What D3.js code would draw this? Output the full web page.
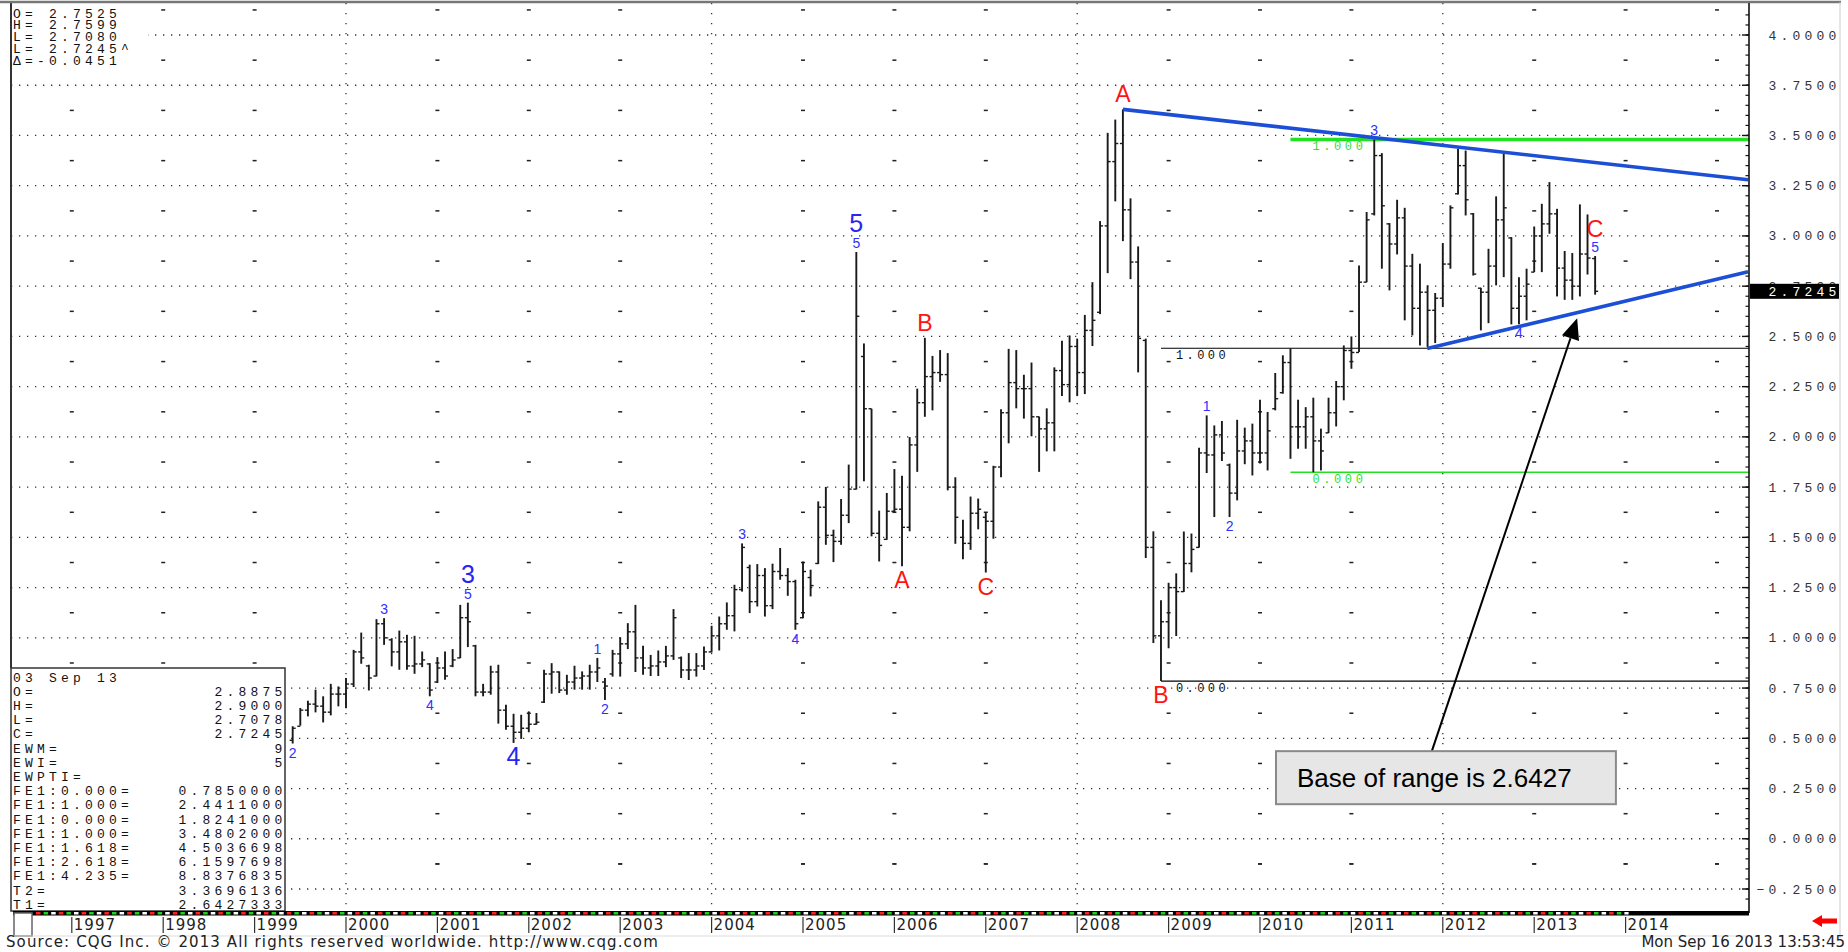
<!DOCTYPE html>
<html>
<head>
<meta charset="utf-8">
<script src="https://cdn.jsdelivr.net/npm/d3@7"></script>
<style>
  body { margin: 0; background: #fff; }
  svg { display: block; }
  .mono { font-family: "Liberation Mono", "DejaVu Sans Mono", monospace; font-size: 13px; letter-spacing: 4.2px; fill: #111; }
  .sans { font-family: "DejaVu Sans", Verdana, sans-serif; font-size: 15px; fill: #222; }
  .wave { font-family: "Liberation Sans", Arial, sans-serif; text-anchor: middle; }
</style>
</head>
<body>
<svg id="chart" width="1848" height="952"></svg>
<script>
// ---- data (monthly bars, first visible one is Jun 1999) ----
var firstYear = 1999, firstMonth = 6

var barOpen = [
  .49,.56,.64,.67,.66,.63,.72,
  .72,.77,.93,.86,.81,1.07,.99,.93,.98,.86,.87,.87,
  .78,.85,.86,.90,1.10,.96,.73,.73,.83,.64,.56,.53,
  .55,.57,.68,.82,.83,.74,.78,.80,.81,.83,.78,.82,
  .92,.97,1.03,.90,.85,.86,.88,.91,.90,.84,.84,.86,
  .93,1.01,1.07,1.11,1.24,1.35,1.18,1.31,1.16,1.33,1.31,1.28,
  1.10,1.30,1.37,1.65,1.51,1.48,1.61,1.74,2.40,2.14,1.52,1.49,
  1.63,1.64,1.55,1.96,2.17,2.30,2.32,2.31,1.75,1.50,1.47,1.62,
  1.60,1.58,1.85,2.12,2.27,2.24,2.24,2.10,2.04,2.07,2.33,2.26,
  2.45,2.32,2.53,2.62,3.05,3.37,3.46,3.13,2.87,2.48,1.45,1.01,
  1.08,1.25,1.23,1.37,1.45,1.92,1.91,2.01,1.86,1.72,1.93,1.98,
  1.92,1.92,2.14,2.22,2.37,2.05,2.05,2.10,1.98,2.02,2.12,2.25,
  2.43,2.42,2.77,3.11,3.40,3.06,2.96,3.09,2.85,2.64,2.72,2.63,
  2.69,2.86,3.21,3.35,3.11,2.74,2.72,2.85,3.08,2.99,2.64,2.70,
  2.82,3.00,3.06,3.11,2.84,2.78,2.75,2.91,2.8875
]
var barHigh = [
  .56,.651,.687,.742,.709,.771,.758,
  .80,.94,1.026,.866,1.093,1.098,.998,1.036,1.015,1.01,.932,.874,
  .904,.932,.944,1.164,1.175,.965,.771,.861,.866,.667,.622,.617,
  .634,.626,.841,.874,.833,.816,.861,.833,.866,.90,.80,.94,
  1.003,1.073,1.164,.96,.915,.937,.96,1.143,.907,.924,.924,.957,
  1.06,1.106,1.176,1.264,1.47,1.364,1.367,1.347,1.369,1.447,1.347,1.289,
  1.38,1.339,1.679,1.751,1.538,1.691,1.862,2.92,2.465,2.14,1.633,1.721,
  1.84,1.807,1.999,2.24,2.493,2.403,2.432,2.417,1.799,1.587,1.703,1.693,
  1.621,1.856,2.138,2.438,2.432,2.309,2.37,2.101,2.142,2.346,2.479,2.505,
  2.489,2.607,2.77,3.074,3.513,3.579,3.63,3.187,2.948,2.489,1.53,1.187,
  1.274,1.321,1.529,1.519,1.946,2.107,2.057,2.079,1.867,2.085,2.046,2.066,
  2.185,2.124,2.318,2.406,2.4411,2.185,2.148,2.195,2.041,2.195,2.278,2.455,
  2.50,2.853,3.119,3.4802,3.412,3.064,3.18,3.14,2.911,2.862,2.754,2.716,
  2.964,3.152,3.434,3.425,3.114,2.742,2.936,3.197,3.409,2.994,2.795,2.837,
  3.047,3.16,3.268,3.135,2.925,2.915,3.157,3.107,2.90
]
var barLow = [
  .474,.563,.609,.629,.579,.614,.659,
  .65,.755,.871,.738,.808,.965,.858,.841,.841,.821,.854,.709,
  .775,.791,.854,.899,.954,.709,.709,.717,.573,.543,.477,.497,
  .53,.568,.676,.722,.725,.717,.742,.742,.742,.78,.69,.807,
  .807,.944,.83,.816,.81,.81,.854,.89,.80,.79,.807,.84,
  .927,.937,1.04,1.032,1.23,1.123,1.156,1.106,1.143,1.289,1.209,1.04,
  1.098,1.206,1.367,1.463,1.377,1.463,1.571,1.738,1.779,1.505,1.38,1.488,
  1.625,1.356,1.53,1.826,2.10,2.132,2.274,1.734,1.468,1.391,1.438,1.54,
  1.325,1.493,1.799,1.968,2.142,2.091,2.003,1.826,1.928,1.928,2.203,2.172,
  2.203,2.213,2.452,2.611,2.815,3.172,2.974,2.785,2.321,1.397,.974,.785,
  .948,1.009,1.228,1.326,1.449,1.82,1.601,1.88,1.601,1.684,1.864,1.808,
  1.867,1.833,2.132,2.215,1.891,1.941,1.941,1.8241,1.833,2.019,2.052,2.182,
  2.339,2.422,2.77,3.102,2.837,2.729,2.908,2.58,2.505,2.455,2.447,2.467,
  2.646,2.837,3.206,3.102,2.803,2.53,2.566,2.754,2.795,2.56,2.56,2.58,
  2.82,2.82,3.011,2.699,2.682,2.682,2.699,2.808,2.7078
]
var barClose = [
  .55,.64,.67,.66,.63,.72,.72,
  .77,.93,.90,.80,1.07,1.00,.93,.98,.86,.87,.89,.74,
  .85,.81,.89,1.10,1.08,.73,.73,.83,.64,.56,.53,.55,
  .57,.58,.82,.83,.74,.78,.80,.81,.83,.85,.76,.92,
  .97,1.03,.90,.85,.86,.88,.91,1.10,.84,.84,.86,.93,
  1.01,1.07,1.11,1.24,1.45,1.18,1.31,1.16,1.33,1.31,1.28,1.07,
  1.33,1.26,1.65,1.51,1.48,1.61,1.74,2.60,2.14,1.52,1.46,1.63,
  1.64,1.55,1.96,2.17,2.30,2.32,2.31,1.75,1.60,1.47,1.62,1.64,
  1.58,1.85,2.12,2.27,2.24,2.24,2.10,2.04,2.07,2.33,2.26,2.45,
  2.32,2.53,2.58,3.05,3.37,3.46,3.13,2.87,2.49,1.45,1.01,1.08,
  1.25,1.23,1.37,1.44,1.92,1.91,2.01,1.92,1.72,1.93,1.98,1.92,
  1.92,2.03,2.19,2.37,2.05,2.05,2.10,1.98,1.93,2.12,2.25,2.43,
  2.42,2.77,3.08,3.40,3.15,2.96,3.09,2.85,2.64,2.72,2.63,2.69,
  2.86,3.14,3.35,3.18,2.81,2.72,2.85,3.08,3.14,2.64,2.70,2.76,
  3.00,3.06,3.11,2.84,2.78,2.75,2.91,2.89,2.7245
]

var yearTicks = [1997,1998,1999,2000,2001,2002,2003,2004,2005,2006,2007,2008,2009,2010,2011,2012,2013,2014]
var priceTicks = [4.0,3.75,3.5,3.25,3.0,2.75,2.5,2.25,2.0,1.75,1.5,1.25,1.0,0.75,0.5,0.25,0.0,-0.25]
var lastPrice = 2.7245

// elliott wave counts: [month, label, side]
var minorWaves = [
  ["1999-06","2","low"], ["2000-06","3","high"], ["2000-12","4","low"], ["2001-05","5","high"],
  ["2002-10","1","high"], ["2002-11","2","low"], ["2004-05","3","high"], ["2004-12","4","low"],
  ["2005-08","5","high"], ["2009-06","1","high"], ["2009-09","2","low"], ["2011-04","3","high"],
  ["2012-11","4","low"], ["2013-09","5","high"]
]
var majorWaves = [["2001-05","3","high"], ["2001-11","4","low"], ["2005-08","5","high"]]
var abcWaves = [
  ["2006-02","A","low"], ["2006-05","B","high"], ["2007-01","C","low"],
  ["2008-07","A","high"], ["2008-12","B","low"], ["2013-09","C","high"]
]

// trend lines [decimal year, price]
var upperTrend = [[2008.5, 3.63], [2015.34, 3.28]]
var lowerTrend = [[2011.83, 2.44], [2015.34, 2.822]]
// fibonacci extension levels
var fibBlack = [["1.000", 2.4411], ["0.000", 0.785]]
var fibGreen = [["1.000", 3.4802], ["0.000", 1.8241]]
var fibBlackStart = 2008.917, fibGreenStart = 2010.333

var ohlcText = ["O= 2.7525", "H= 2.7599", "L= 2.7080", "L= 2.7245^", "\u0394=-0.0451"]
var studyNames = ["03 Sep 13","O=","H=","L=","C=","EWM=","EWI=","EWPTI=","FE1:0.000=","FE1:1.000=","FE1:0.000=","FE1:1.000=","FE1:1.618=","FE1:2.618=","FE1:4.235=","T2=","T1="]
var studyValues = ["","2.8875","2.9000","2.7078","2.7245","9","5","","0.7850000","2.4411000","1.8241000","3.4802000","4.5036698","6.1597698","8.8376835","3.3696136","2.6427333"]

// ---- layout ----
var plotLeft = 11, plotRight = 1749, plotTop = 3, plotBottom = 911
var x = d3.scaleLinear().domain([1997, 2014]).range([71.8, 1625.6])
var y = d3.scaleLinear().domain([-0.25, 4]).range([889, 35])

function monthT(s) {
  var p = s.split('-')
  return +p[0] + (+p[1] - 1) / 12
}

var bars = barOpen.map(function(o, i) {
  return {t: firstYear + (firstMonth - 1 + i) / 12, o: o, h: barHigh[i], l: barLow[i], c: barClose[i]}
})
function barAt(s) {
  var t = monthT(s)
  return bars.find(b => Math.abs(b.t - t) < 0.01)
}

var svg = d3.select('#chart')
svg.append('rect').attr('width', 1848).attr('height', 952).attr('fill', '#fff')

svg.append('clipPath').attr('id', 'plotClip')
  .append('rect').attr('x', plotLeft).attr('y', plotTop).attr('width', plotRight - plotLeft).attr('height', plotBottom - plotTop)

var gridG = svg.append('g')
// horizontal dotted grid
gridG.selectAll('line.h').data(priceTicks).join('line')
  .attr('x1', plotLeft).attr('x2', plotRight)
  .attr('y1', d => y(d)).attr('y2', d => y(d))
  .attr('stroke', '#333').attr('stroke-width', 1.3).attr('stroke-dasharray', '1.3,6.7')

// vertical dotted lines every 4 years
var vYears = yearTicks.filter(d => d % 4 == 0)
gridG.selectAll('line.v').data(vYears).join('line')
  .attr('x1', d => x(d)).attr('x2', d => x(d))
  .attr('y1', plotTop).attr('y2', plotBottom)
  .attr('stroke', '#333').attr('stroke-width', 1.3).attr('stroke-dasharray', '1.3,8.7')

// little dashes between the grid lines
var dashYears = yearTicks.concat([2015]).filter(d => d % 4 != 0)
var midLevels = priceTicks.map(d => d + 0.125).concat([-0.125 - 0.25 + 0.25])
var dashPts = []
dashYears.forEach(yr => midLevels.forEach(v => dashPts.push([yr, v])))
gridG.selectAll('rect.dash').data(dashPts).join('rect')
  .attr('x', d => x(d[0]) - 2).attr('y', d => y(d[1]) - 0.7)
  .attr('width', 4).attr('height', 1.5).attr('fill', '#222')

// fib lines
var fibG = svg.append('g').attr('clip-path', 'url(#plotClip)')
fibG.selectAll('line.fb').data(fibBlack).join('line')
  .attr('x1', x(fibBlackStart)).attr('x2', plotRight)
  .attr('y1', d => y(d[1])).attr('y2', d => y(d[1]))
  .attr('stroke', '#000').attr('stroke-width', 1.2)
fibG.selectAll('text.fb').data(fibBlack).join('text').attr('class', 'mono')
  .attr('x', x(fibBlackStart) + 15).attr('y', d => y(d[1]) + 11)
  .style('font-size', '12px').style('letter-spacing', '3.4px')
  .text(d => d[0])
fibG.selectAll('line.fg').data(fibGreen).join('line')
  .attr('x1', x(fibGreenStart)).attr('x2', plotRight)
  .attr('y1', d => y(d[1])).attr('y2', d => y(d[1]))
  .attr('stroke', '#22e022').attr('stroke-width', (d, i) => i == 0 ? 3.5 : 1.3)
fibG.selectAll('text.fg').data(fibGreen).join('text').attr('class', 'mono')
  .attr('x', x(fibGreenStart) + 22).attr('y', d => y(d[1]) + 11)
  .style('font-size', '12px').style('letter-spacing', '3.6px').style('fill', '#33dd33')
  .text(d => d[0])

// OHLC bars
var barG = svg.append('g').attr('stroke', '#1a1a1a')
var bar = barG.selectAll('g').data(bars).join('g')
  .attr('transform', d => 'translate(' + x(d.t) + ',0)')
bar.append('line').attr('x1', 0).attr('x2', 0)
  .attr('y1', d => y(d.h)).attr('y2', d => y(d.l)).attr('stroke-width', 1.9)
bar.append('line').attr('x1', -3).attr('x2', 0)
  .attr('y1', d => y(d.o)).attr('y2', d => y(d.o)).attr('stroke-width', 1.4)
bar.append('line').attr('x1', 0).attr('x2', 3)
  .attr('y1', d => y(d.c)).attr('y2', d => y(d.c)).attr('stroke-width', 1.4)

// trend lines
var trendG = svg.append('g').attr('clip-path', 'url(#plotClip)')
var lineGen = d3.line().x(d => x(d[0])).y(d => y(d[1]))
trendG.selectAll('path').data([upperTrend, lowerTrend]).join('path')
  .attr('d', lineGen).attr('fill', 'none')
  .attr('stroke', '#1c4fd6').attr('stroke-width', 3.6)

// wave labels
var labelG = svg.append('g')
function hasMinor(w) {
  return minorWaves.some(m => m[0] == w[0] && m[2] == w[2])
}
labelG.selectAll('text.minor').data(minorWaves).join('text').attr('class', 'wave')
  .attr('x', d => x(monthT(d[0])))
  .attr('y', d => d[2] == 'high' ? y(barAt(d[0]).h) - 4 : y(barAt(d[0]).l) + 14)
  .style('font-size', '14px').style('fill', '#3030ff')
  .text(d => d[1])
labelG.selectAll('text.major').data(majorWaves).join('text').attr('class', 'wave')
  .attr('x', d => x(monthT(d[0])))
  .attr('y', d => d[2] == 'high' ? y(barAt(d[0]).h) - 20 : y(barAt(d[0]).l) + 22)
  .style('font-size', '25px').style('fill', '#2626f0')
  .text(d => d[1])
labelG.selectAll('text.abc').data(abcWaves).join('text').attr('class', 'wave')
  .attr('x', d => x(monthT(d[0])))
  .attr('y', function(d) {
    var b = barAt(d[0])
    if(d[2] == 'high') return y(b.h) - (hasMinor(d) ? 19 : 7)
    return y(b.l) + 22
  })
  .style('font-size', '23px').style('fill', '#ff1414')
  .text(d => d[1])

// top-left OHLC read-out
svg.append('rect').attr('x', 12).attr('y', 4).attr('width', 136).attr('height', 66).attr('fill', '#fff')
svg.selectAll('text.ohlc').data(ohlcText).join('text').attr('class', 'mono')
  .attr('x', 13).attr('y', (d, i) => 17.5 + i * 11.8)
  .text(d => d)

// study values box
var boxTop = 668
svg.append('rect').attr('x', 11).attr('y', boxTop).attr('width', 274).attr('height', plotBottom - boxTop)
  .attr('fill', '#fff').attr('stroke', '#333').attr('stroke-width', 1.5)
svg.selectAll('text.sname').data(studyNames).join('text').attr('class', 'mono')
  .attr('x', 13).attr('y', (d, i) => 681.5 + i * 14.2)
  .text(d => d)
svg.selectAll('text.sval').data(studyValues).join('text').attr('class', 'mono')
  .attr('x', 286.5).attr('y', (d, i) => 681.5 + i * 14.2).attr('text-anchor', 'end')
  .text(d => d)

// frame
svg.append('line').attr('x1', plotLeft).attr('x2', plotLeft).attr('y1', plotTop).attr('y2', boxTop)
  .attr('stroke', '#333').attr('stroke-width', 2)
svg.append('line').attr('x1', 0).attr('x2', 1841).attr('y1', 2).attr('y2', 2)
  .attr('stroke', '#777').attr('stroke-width', 2.5)
svg.append('line').attr('x1', 1840).attr('x2', 1840).attr('y1', 2).attr('y2', 938)
  .attr('stroke', '#ccc').attr('stroke-width', 1)

// right price axis
var axisG = svg.append('g')
axisG.append('line').attr('x1', plotRight).attr('x2', plotRight).attr('y1', plotTop).attr('y2', plotBottom + 2)
  .attr('stroke', '#111').attr('stroke-width', 1.6)
var minorTicks = d3.range(-0.35, 4.2, 0.05).filter(v => y(v) > plotTop + 2 && y(v) < plotBottom - 2)
axisG.selectAll('line.mt').data(minorTicks).join('line')
  .attr('x1', plotRight - 3.5).attr('x2', plotRight)
  .attr('y1', d => y(d)).attr('y2', d => y(d)).attr('stroke', '#111').attr('stroke-width', 1.2)
axisG.selectAll('line.Mt').data(priceTicks).join('line')
  .attr('x1', plotRight - 7).attr('x2', plotRight)
  .attr('y1', d => y(d)).attr('y2', d => y(d)).attr('stroke', '#111').attr('stroke-width', 1.4)
axisG.selectAll('text').data(priceTicks).join('text').attr('class', 'mono')
  .attr('x', 1840.5).attr('y', d => y(d) + 4.5).attr('text-anchor', 'end')
  .style('fill', '#333')
  .text(d => d3.format('.4f')(d))
axisG.append('rect').attr('x', plotRight + 1).attr('y', y(lastPrice) - 7.5).attr('width', 89).attr('height', 15).attr('fill', '#000')
axisG.append('text').attr('class', 'mono')
  .attr('x', 1840.5).attr('y', y(lastPrice) + 4.5).attr('text-anchor', 'end')
  .style('fill', '#fff').text(d3.format('.4f')(lastPrice))

// time axis strip
var stripG = svg.append('g')
stripG.append('rect').attr('x', 13).attr('y', plotBottom).attr('width', plotRight - 13).attr('height', 4.5).attr('fill', '#000')
var stripColors = [['#ff2020', 0], ['#20d020', -7.6], ['#ffffff', -15.2]]
stripG.selectAll('line').data(stripColors).join('line')
  .attr('x1', 36).attr('x2', x(2014) + 3)
  .attr('y1', plotBottom + 2.2).attr('y2', plotBottom + 2.2)
  .attr('stroke', d => d[0]).attr('stroke-width', 2.6)
  .attr('stroke-dasharray', '4.5,18.3').attr('stroke-dashoffset', d => d[1])
stripG.append('rect').attr('x', 14).attr('y', plotBottom + 2).attr('width', 18).attr('height', 23)
  .attr('fill', '#fff').attr('stroke', '#666').attr('stroke-width', 1.5)
stripG.append('line').attr('x1', 12).attr('x2', plotRight).attr('y1', 936).attr('y2', 936)
  .attr('stroke', '#ddd').attr('stroke-width', 1)
stripG.selectAll('line.yt').data(yearTicks).join('line')
  .attr('x1', d => x(d)).attr('x2', d => x(d))
  .attr('y1', plotBottom + 6).attr('y2', plotBottom + 22)
  .attr('stroke', '#333').attr('stroke-width', 1.2)
stripG.selectAll('text').data(yearTicks).join('text').attr('class', 'sans')
  .attr('x', d => x(d) + 2).attr('y', 930)
  .style('letter-spacing', '1px')
  .text(d => d)

// red scroll arrow
svg.append('path')
  .attr('d', 'M1812,921 L1822,915 L1822,918.5 L1837,918.5 L1837,923.5 L1822,923.5 L1822,927 Z')
  .attr('fill', '#ff0000')

// footer
svg.append('text').attr('class', 'sans').attr('x', 6).attr('y', 947)
  .style('letter-spacing', '1.1px')
  .text('Source: CQG Inc. \u00a9 2013 All rights reserved worldwide. http://www.cqg.com')
svg.append('text').attr('class', 'sans').attr('x', 1845).attr('y', 947).attr('text-anchor', 'end')
  .text('Mon Sep 16 2013 13:53:45')

// callout with arrow pointing at the lower trend line
var tail = [x(2011.88), y(0.436)]
var tip = [x(2013.47), y(2.59)]
var dx = tip[0] - tail[0], dy = tip[1] - tail[1]
var len = Math.sqrt(dx * dx + dy * dy)
var ux = dx / len, uy = dy / len
var headLen = 21, headW = 9
var base = [tip[0] - ux * headLen, tip[1] - uy * headLen]
svg.append('line').attr('x1', tail[0]).attr('y1', tail[1]).attr('x2', base[0]).attr('y2', base[1])
  .attr('stroke', '#000').attr('stroke-width', 2)
svg.append('path')
  .attr('d', 'M' + tip[0] + ',' + tip[1] +
    'L' + (base[0] - uy * headW) + ',' + (base[1] + ux * headW) +
    'L' + (base[0] + uy * headW) + ',' + (base[1] - ux * headW) + 'Z')
  .attr('fill', '#000')
var boxL = x(2010.175), boxR = x(2013.894), boxT = y(0.436), boxB = y(0.172)
svg.append('rect').attr('x', boxL).attr('y', boxT).attr('width', boxR - boxL).attr('height', boxB - boxT)
  .attr('fill', '#e6e6e6').attr('stroke', '#8a8a8a').attr('stroke-width', 2)
svg.append('text').attr('x', boxL + 21).attr('y', boxT + 36)
  .style('font-family', '"Liberation Sans", Arial, sans-serif').style('font-size', '26px').style('fill', '#000')
  .text('Base of range is 2.6427')
</script>
</body>
</html>
